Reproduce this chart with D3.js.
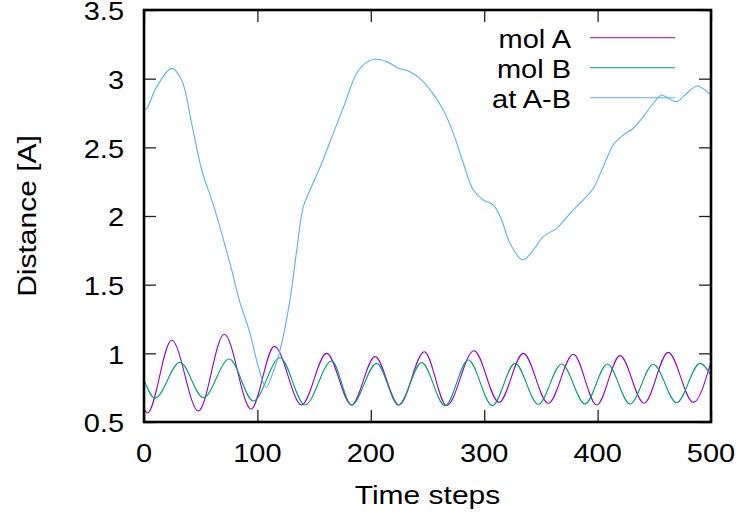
<!DOCTYPE html>
<html>
<head>
<meta charset="utf-8">
<script src="https://cdn.jsdelivr.net/npm/d3@7"></script>
<style>
  html, body { margin: 0; padding: 0; background: #fff; }
  svg { display: block; }
  text { font-family: "Liberation Sans", Arial, Helvetica, sans-serif; fill: #000; }
</style>
</head>
<body>
<svg id="chart" width="743" height="519"></svg>
<script>
// ---- Data ----
const xTicks = [0, 100, 200, 300, 400, 500];
const yTicks = [0.5, 1, 1.5, 2, 2.5, 3, 3.5];
const seriesNames = ["mol A", "mol B", "at A-B"];
const seriesColors = ["#9400d3", "#009e73", "#56b4e9"];

// mol A: time steps and distances at the extrema
const molAT = [0, 3, 24.4, 47.9, 70.8, 94.4, 114.9, 139, 161, 183, 203.7, 224.9, 247.2, 266.9, 291, 313, 334.5, 356.5, 378.6, 399.2, 419.8, 440.9, 462.3, 484.4, 500];
const molAY = [0.60, 0.565, 1.097, 0.58, 1.139, 0.595, 1.051, 0.624, 1.0, 0.624, 0.976, 0.624, 1.012, 0.619, 1.019, 0.643, 1.0, 0.636, 0.993, 0.624, 0.983, 0.636, 1.007, 0.643, 0.94];

// mol B
const molBT = [0, 9.7, 31.7, 52.3, 75.2, 96.4, 119.9, 142, 165.5, 183, 205.2, 224.3, 244.9, 265.4, 286, 307.2, 327.2, 347.7, 368.3, 388.9, 408.6, 428.6, 449.1, 469.7, 490.3, 500];
const molBY = [0.806, 0.674, 0.935, 0.677, 0.959, 0.653, 0.968, 0.624, 0.944, 0.624, 0.927, 0.624, 0.932, 0.619, 0.951, 0.619, 0.927, 0.629, 0.922, 0.631, 0.922, 0.631, 0.92, 0.64, 0.927, 0.84];

// at A-B
const abT = [0, 2, 11.2, 24.4, 33.2, 42, 50.9, 59.7, 68.5, 77.3, 84, 93.5, 100.8, 107.6, 114, 120, 128.7, 134.7, 140.5, 146.4, 156.7, 166.9, 177.2, 186, 193.4, 203.7, 214, 224.3, 234.6, 244.9, 254, 263.9, 272.8, 281.6, 290.4, 299.2, 308, 315.4, 322.7, 333.9, 343.3, 352.1, 363.9, 375.7, 387.4, 396.2, 405, 413.8, 422.7, 431.5, 440.3, 449.1, 456.5, 462.3, 469.7, 477, 487.4, 494.7, 500];
const abY = [2.784, 2.78, 2.942, 3.075, 2.99, 2.675, 2.335, 2.117, 1.874, 1.607, 1.388, 1.146, 0.903, 0.753, 0.866, 1.024, 1.388, 1.752, 2.068, 2.189, 2.384, 2.602, 2.821, 3.014, 3.1, 3.141, 3.124, 3.076, 3.051, 2.99, 2.9, 2.772, 2.602, 2.384, 2.189, 2.117, 2.08, 1.971, 1.801, 1.68, 1.752, 1.85, 1.91, 2.02, 2.117, 2.202, 2.359, 2.517, 2.59, 2.639, 2.723, 2.821, 2.881, 2.857, 2.832, 2.881, 2.947, 2.918, 2.881];

// ---- Layout ----
const svg = d3.select("#chart");
const mLeft = 144, mRight = 711, mTop = 10, mBottom = 422;
const x = d3.scaleLinear().domain([0, 500]).range([mLeft, mRight]);
const y = d3.scaleLinear().domain([0.5, 3.5]).range([mBottom, mTop]);
const fontSize = 29;
const vScale = 0.88; // glyphs in the reference are slightly squashed vertically

function label(px, py, str, anchor, dy, fs) {
  return svg.append("text")
    .attr("transform", `translate(${px},${py}) scale(1,${vScale})`)
    .attr("dy", dy).attr("text-anchor", anchor).attr("font-size", fs || fontSize).text(str);
}

svg.append("clipPath").attr("id", "clip")
  .append("rect").attr("x", mLeft).attr("y", mTop).attr("width", mRight - mLeft).attr("height", mBottom - mTop);

// ticks (inward, mirrored) via d3 axes
const tickLen = 12;
const axes = [
  [d3.axisLeft(y).tickValues(yTicks), `translate(${mLeft},0)`],
  [d3.axisRight(y).tickValues(yTicks), `translate(${mRight},0)`],
  [d3.axisBottom(x).tickValues(xTicks), `translate(0,${mBottom})`],
  [d3.axisTop(x).tickValues(xTicks), `translate(0,${mTop})`]
];
axes.forEach(([ax, tr]) => {
  const g = svg.append("g").attr("transform", tr)
    .call(ax.tickSizeInner(-tickLen).tickSizeOuter(0).tickFormat(""));
  g.select(".domain").remove();
  g.selectAll("text").remove();
  g.selectAll("line").attr("stroke", "#222").attr("stroke-width", 1.3);
});

// tick labels
yTicks.forEach(v => label(mLeft - 20, y(v), d3.format("")(v), "end", "0.4em"));
xTicks.forEach(v => label(x(v), mBottom + 39.5, d3.format("")(v), "middle", "0"));

// lines
const mk = (ts, vs) => ts.map((t, i) => [t, vs[i]]);
const data = [mk(molAT, molAY), mk(molBT, molBY), mk(abT, abY)];
const curves = [d3.curveMonotoneX, d3.curveMonotoneX, d3.curveCatmullRom.alpha(0.5)];
const lineG = svg.append("g").attr("clip-path", "url(#clip)");
data.forEach((d, i) => {
  lineG.append("path")
    .attr("d", d3.line().x(p => x(p[0])).y(p => y(p[1])).curve(curves[i])(d))
    .attr("fill", "none").attr("stroke", seriesColors[i]).attr("stroke-width", 1.1);
});

// legend
const legY = [37.7, 67.8, 97.7];
seriesNames.forEach((n, i) => {
  label(571, legY[i], n, "end", "0.4em");
  svg.append("line").attr("x1", 590).attr("x2", 675).attr("y1", legY[i]).attr("y2", legY[i])
    .attr("stroke", seriesColors[i]).attr("stroke-width", 1.1);
});

// frame
svg.append("rect").attr("x", mLeft).attr("y", mTop).attr("width", mRight - mLeft).attr("height", mBottom - mTop)
  .attr("fill", "none").attr("stroke", "#000").attr("stroke-width", 2.6);

// axis titles
label((mLeft + mRight) / 2, 504, "Time steps", "middle", "0", 30);
svg.append("text").attr("transform", `translate(36,${(mTop + mBottom) / 2}) rotate(-90) scale(1,${vScale})`)
  .attr("text-anchor", "middle").attr("font-size", 30).text("Distance [A]");
</script>
</body>
</html>
